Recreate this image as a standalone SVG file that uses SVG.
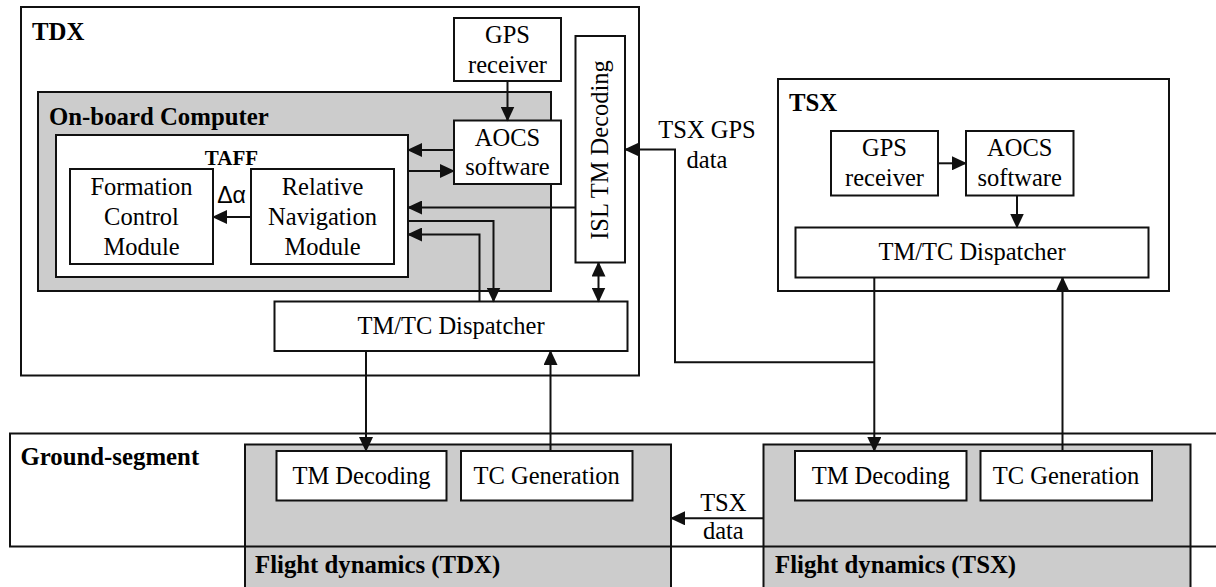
<svg xmlns="http://www.w3.org/2000/svg" width="1216" height="587" viewBox="0 0 1216 587">
<defs>
<style>
.box{fill:#fff;stroke:#111;stroke-width:2}
.gray{fill:#cccccc;stroke:#111;stroke-width:2}
.frame{fill:none;stroke:#111;stroke-width:2}
.c{fill:none;stroke:#111;stroke-width:2}
.a{marker-end:url(#ah)}
.aa{marker-start:url(#ah);marker-end:url(#ah)}
text{font-family:"Liberation Serif","Times New Roman",serif;fill:#000}
.t{font-size:24.5px;text-anchor:middle}
.b{font-size:24.8px;font-weight:bold}
.bm{font-size:21px;font-weight:bold;text-anchor:middle}
.s{font-family:"Liberation Sans",Arial,sans-serif;font-size:23px;text-anchor:middle}
</style>
<marker id="ah" viewBox="0 0 15 14" refX="14" refY="7" markerWidth="15" markerHeight="14" markerUnits="userSpaceOnUse" orient="auto-start-reverse">
<path d="M0,0 L15,7 L0,14 z" fill="#111"/>
</marker>
</defs>
<rect width="1216" height="587" fill="#fff"/>

<g id="tdx">
<rect class="frame" x="21" y="7" width="618" height="368.5"/>
<text class="b" x="32" y="40">TDX</text>
</g>

<g id="onboard-computer">
<rect class="gray" x="38" y="92" width="513" height="199"/>
<text class="b" x="49" y="125">On-board Computer</text>
</g>

<g id="taff">
<rect class="box" x="56" y="135" width="352" height="142"/>
<text class="bm" x="231.5" y="165">TAFF</text>
</g>

<g id="formation-control">
<rect class="box" x="70" y="169" width="143" height="95"/>
<text class="t" x="141.5" y="195">Formation</text>
<text class="t" x="141.5" y="225">Control</text>
<text class="t" x="141.5" y="255">Module</text>
</g>

<g id="relative-navigation">
<rect class="box" x="251" y="169" width="143" height="95"/>
<text class="t" x="322.5" y="195">Relative</text>
<text class="t" x="322.5" y="225">Navigation</text>
<text class="t" x="322.5" y="255">Module</text>
</g>

<g id="tdx-gps">
<rect class="box" x="454" y="18" width="107" height="63"/>
<text class="t" x="507.5" y="43">GPS</text>
<text class="t" x="507.5" y="73">receiver</text>
</g>

<g id="tdx-aocs">
<rect class="box" x="454" y="120.5" width="107" height="63.5"/>
<text class="t" x="507.5" y="146">AOCS</text>
<text class="t" x="507.5" y="175">software</text>
</g>

<g id="isl-tm-decoding">
<rect class="box" x="575.5" y="36" width="49.5" height="226.5"/>
<text class="t" transform="translate(600,150) rotate(-90)" x="0" y="8">ISL TM Decoding</text>
</g>

<g id="tdx-dispatcher">
<rect class="box" x="274.5" y="301.5" width="353" height="49.5"/>
<text class="t" x="451" y="334">TM/TC Dispatcher</text>
</g>

<g id="tsx">
<rect class="frame" x="778" y="79" width="391" height="212"/>
<text class="b" x="789" y="111">TSX</text>
</g>

<g id="tsx-gps">
<rect class="box" x="831" y="131" width="107" height="64.5"/>
<text class="t" x="884.5" y="156">GPS</text>
<text class="t" x="884.5" y="186">receiver</text>
</g>

<g id="tsx-aocs">
<rect class="box" x="966" y="131" width="107.5" height="64.5"/>
<text class="t" x="1019.7" y="156">AOCS</text>
<text class="t" x="1019.7" y="186">software</text>
</g>

<g id="tsx-dispatcher">
<rect class="box" x="795.5" y="227.5" width="353" height="50"/>
<text class="t" x="972" y="260">TM/TC Dispatcher</text>
</g>

<g id="flight-dynamics-tdx">
<rect class="gray" x="245" y="444.5" width="426" height="160"/>
<text class="b" x="255" y="573">Flight dynamics (TDX)</text>
</g>

<g id="flight-dynamics-tsx">
<rect class="gray" x="763.5" y="444.5" width="427" height="160"/>
<text class="b" x="775" y="573">Flight dynamics (TSX)</text>
</g>

<g id="ground-segment">
<rect class="frame" x="10" y="433.5" width="1230" height="113"/>
<text class="b" x="20.5" y="465">Ground-segment</text>
</g>

<g id="tdx-tm-decoding">
<rect class="box" x="276.5" y="451" width="170" height="49.5"/>
<text class="t" x="361.5" y="483.5">TM Decoding</text>
</g>

<g id="tdx-tc-generation">
<rect class="box" x="461" y="451" width="171.5" height="49.5"/>
<text class="t" x="546.7" y="483.5">TC Generation</text>
</g>

<g id="tsx-tm-decoding">
<rect class="box" x="795" y="451" width="171.5" height="49.5"/>
<text class="t" x="880.8" y="483.5">TM Decoding</text>
</g>

<g id="tsx-tc-generation">
<rect class="box" x="980.5" y="451" width="171.5" height="49.5"/>
<text class="t" x="1066" y="483.5">TC Generation</text>
</g>

<g id="connectors">
<line class="c a" x1="251" y1="217" x2="213" y2="217"/>
<line class="c a" x1="507.5" y1="81" x2="507.5" y2="120.5"/>
<line class="c a" x1="454" y1="150" x2="408" y2="150"/>
<line class="c a" x1="408" y1="171" x2="454" y2="171"/>
<line class="c a" x1="575.5" y1="207.5" x2="408" y2="207.5"/>
<polyline class="c a" points="408,221 493.5,221 493.5,301.5"/>
<polyline class="c a" points="479.5,301.5 479.5,234.5 408,234.5"/>
<line class="c aa" x1="598.5" y1="262.5" x2="598.5" y2="301.5"/>
<line class="c a" x1="366" y1="351" x2="366" y2="451"/>
<line class="c a" x1="550.5" y1="451" x2="550.5" y2="351"/>
<line class="c a" x1="938" y1="163.3" x2="966" y2="163.3"/>
<line class="c a" x1="1017" y1="195.5" x2="1017" y2="227.5"/>
<line class="c a" x1="874.3" y1="277.5" x2="874.3" y2="451"/>
<polyline class="c a" points="874.3,362.3 675,362.3 675,149.5 625,149.5"/>
<line class="c a" x1="1062.5" y1="451" x2="1062.5" y2="277.5"/>
<line class="c a" x1="763.5" y1="518.3" x2="671" y2="518.3"/>
<text class="s" x="231.5" y="203">Δα</text>
<text class="t" x="707" y="138.3">TSX GPS</text>
<text class="t" x="707" y="168.3">data</text>
<text class="t" x="723.3" y="510.7">TSX</text>
<text class="t" x="723.3" y="539.3">data</text>
</g>
</svg>
